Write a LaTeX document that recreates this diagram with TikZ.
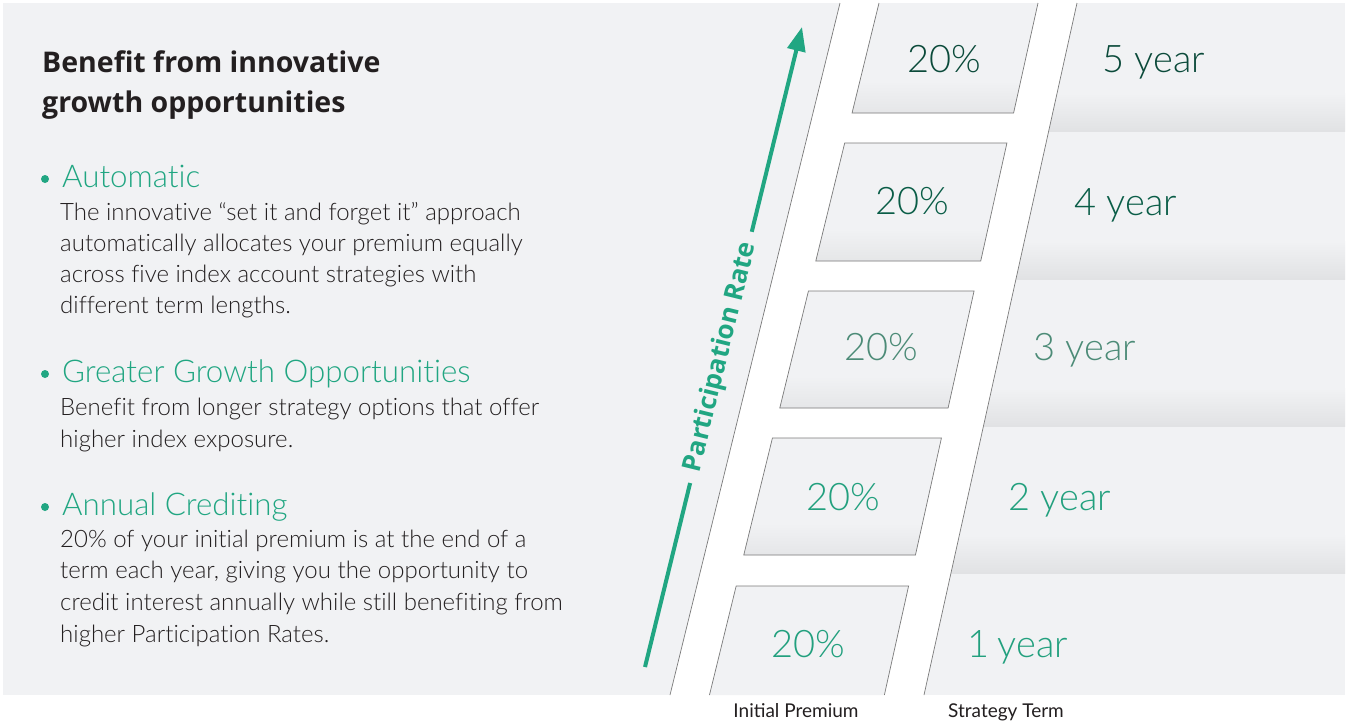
\documentclass[tikz,border=0pt]{standalone}
\usepackage{fontspec}
\setmainfont{Lato}
\newfontfamily\lightf{Lato Light}[Ligatures={NoCommon}]
\newfontfamily\opensf{Open Sans}
\usetikzlibrary{arrows.meta,calc}
\definecolor{bg}{HTML}{F1F2F4}
\definecolor{banddark}{HTML}{E1E2E4}
\definecolor{boxdark}{HTML}{E5E6E8}
\definecolor{linegray}{HTML}{7A7A7A}
\definecolor{txt}{HTML}{231F20}
\definecolor{tealc}{HTML}{21A682}
\definecolor{gA}{HTML}{0B4A3A}
\definecolor{gB}{HTML}{0A5D47}
\definecolor{gC}{HTML}{4C8B77}
\definecolor{gD}{HTML}{22A07E}
\begin{document}
\begin{tikzpicture}[x=1pt,y=-1pt,
  bodytxt/.style={anchor=base west, inner sep=0pt, font=\lightf\fontsize{24}{28}\selectfont, text=txt},
  bhead/.style={anchor=base west, inner sep=0pt, font=\lightf\fontsize{31.3}{34}\selectfont, text=tealc},
  bdot/.style={circle, fill=tealc, inner sep=0pt, minimum size=8pt},
  ttl/.style={anchor=base west, inner sep=0pt, font=\opensf\bfseries\fontsize{28.5}{32}\selectfont, text=txt},
  pct/.style={anchor=base, inner sep=0pt, font=\lightf\fontsize{38}{40}\selectfont},
  yr/.style={anchor=base west, inner sep=0pt, font=\lightf\fontsize{38}{40}\selectfont},
  lab/.style={anchor=base, inner sep=0pt, font=\fontsize{19}{22}\selectfont, text=txt},
  ladline/.style={draw=linegray, line width=0.7pt},
  arr/.style={draw=tealc, line width=4pt}]
\useasboundingbox (0,0) rectangle (1347,721);
\fill[white] (0,0) rectangle (1347,721);
\fill[bg] (3,3) rectangle (1345,695);
% right-side bands
\foreach \b in {131,279,426,573}{
  \shade[top color=bg, bottom color=banddark] (900,\b-38) rectangle (1345,\b);
}
% ladder
\coordinate (LT) at (840,3);
\coordinate (RT) at (1077,3);
\coordinate (RB) at (924,695);
\coordinate (LB) at (670,695);
\fill[white] (LT) -- (RT) -- (RB) -- (LB) -- cycle;
\draw[ladline] (LT) -- (LB);
\draw[ladline] (RT) -- (RB);
% boxes
\foreach \i/\t/\b/\s in {5/3/113/1,4/143/261/1,3/291/408/1,2/438/555/1,1/586/695/0}{
  \coordinate (tl\i) at ({879-0.245*(\t-3)},\t);
  \coordinate (tr\i) at ({1038-0.222*(\t-3)},\t);
  \coordinate (br\i) at ({1038-0.222*(\b-3)},\b);
  \coordinate (bl\i) at ({879-0.245*(\b-3)},\b);
  \begin{scope}
    \clip (tl\i) -- (tr\i) -- (br\i) -- (bl\i) -- cycle;
    \fill[bg] (600,0) rectangle (1200,721);
    \ifnum\s=1
      \shade[top color=bg, bottom color=boxdark] (600,\b-32) rectangle (1200,\b);
    \fi
  \end{scope}
}
\draw[ladline] (tl5) -- (bl5) -- (br5) -- (tr5);
\foreach \i in {4,3,2}{
  \draw[ladline] (tl\i) -- (tr\i) -- (br\i) -- (bl\i) -- cycle;
}
\draw[ladline] (bl1) -- (tl1) -- (tr1) -- (br1);
% percentages
\node[pct, text=gA] (p5) at (944,72) {20\%};
\node[pct, text=gB] (p4) at (912,214) {20\%};
\node[pct, text=gC] (p3) at (881,360) {20\%};
\node[pct, text=gD] (p2) at (843,510) {20\%};
\node[pct, text=gD] (p1) at (808,657) {20\%};
% years
\node[yr, text=gA] (y5) at (1102,72) {5 year};
\node[yr, text=gB] (y4) at (1074,215) {4 year};
\node[yr, text=gC] (y3) at (1033,360) {3 year};
\node[yr, text=gD] (y2) at (1008,510) {2 year};
\node[yr, text=gD] (y1) at (967,657) {1\kern-2pt\ year};
% arrow
\coordinate (aS) at (645,667);
\coordinate (aE) at (802,27);
\draw[arr] (aS) -- ($(aS)!0.2875!(aE)$);
\draw[arr, -{Triangle[length=24pt,width=18pt]}] ($(aS)!0.68!(aE)$) -- (aE);
\node[inner sep=0pt, rotate=76.2, text=tealc, font=\opensf\bfseries\fontsize{26}{28}\selectfont] (pr) at ($(aS)!0.484!(aE)$) {Participation Rate};
% bottom labels
\node[lab] (ip) at (796,717) {Initial Premium};
\node[lab] (st) at (1006,717) {Strategy Term};
% left text
\node[ttl] (t1) at (42,72) {Benefit from innovative};
\node[ttl] (t2) at (42,112) {growth opportunities};
\node[bdot] (d1) at (45,179) {};
\node[bhead] (h1) at (62,187) {Automatic};
\node[bodytxt] (a1) at (60,220) {The innovative “set it and forget it” approach};
\node[bodytxt] (a2) at (60,251) {automatically allocates your premium equally};
\node[bodytxt] (a3) at (60,282) {across five index account strategies with};
\node[bodytxt] (a4) at (60,313) {different term lengths.};
\node[bdot] (d2) at (45,374) {};
\node[bhead] (h2) at (62,382) {Greater Growth Opportunities};
\node[bodytxt] (g1) at (60,415) {Benefit from longer strategy options that offer};
\node[bodytxt] (g2) at (60,447) {higher index exposure.};
\node[bdot] (d3) at (45,507) {};
\node[bhead] (h3) at (62,515) {Annual Crediting};
\node[bodytxt] (c1) at (60,547) {20\% of your initial premium is at the end of a};
\node[bodytxt] (c2) at (60,578) {term each year, giving you the opportunity to};
\node[bodytxt] (c3) at (60,610) {credit interest annually while still benefiting from};
\node[bodytxt] (c4) at (60,642) {higher Participation Rates.};
\end{tikzpicture}
\end{document}
